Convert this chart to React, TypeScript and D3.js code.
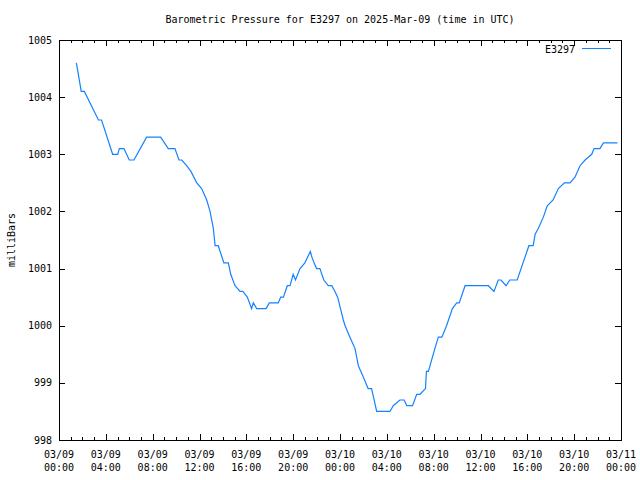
import React from "react";
import * as d3 from "d3";

const times: string[] = [
  "2025-03-09T01:29","2025-03-09T01:54","2025-03-09T02:10","2025-03-09T03:22","2025-03-09T03:38",
  "2025-03-09T04:35","2025-03-09T05:01","2025-03-09T05:09","2025-03-09T05:33","2025-03-09T06:00",
  "2025-03-09T06:24","2025-03-09T07:29","2025-03-09T08:41","2025-03-09T09:20","2025-03-09T09:54",
  "2025-03-09T10:15","2025-03-09T10:29","2025-03-09T10:54","2025-03-09T11:16","2025-03-09T11:46",
  "2025-03-09T12:11","2025-03-09T12:37","2025-03-09T12:54","2025-03-09T13:11","2025-03-09T13:20",
  "2025-03-09T13:36","2025-03-09T14:05","2025-03-09T14:28","2025-03-09T14:40","2025-03-09T15:02",
  "2025-03-09T15:28","2025-03-09T15:42","2025-03-09T16:05","2025-03-09T16:27","2025-03-09T16:36",
  "2025-03-09T16:53","2025-03-09T17:41","2025-03-09T17:58","2025-03-09T18:44","2025-03-09T18:56",
  "2025-03-09T19:10","2025-03-09T19:30","2025-03-09T19:44","2025-03-09T20:00","2025-03-09T20:12",
  "2025-03-09T20:35","2025-03-09T21:00","2025-03-09T21:28","2025-03-09T21:36","2025-03-09T21:47",
  "2025-03-09T22:00","2025-03-09T22:17","2025-03-09T22:37","2025-03-09T23:00","2025-03-09T23:18",
  "2025-03-09T23:34","2025-03-09T23:48","2025-03-10T00:17","2025-03-10T00:26","2025-03-10T00:51",
  "2025-03-10T01:17","2025-03-10T01:34","2025-03-10T02:00","2025-03-10T02:24","2025-03-10T02:42",
  "2025-03-10T03:08","2025-03-10T04:16","2025-03-10T04:33","2025-03-10T05:07","2025-03-10T05:29",
  "2025-03-10T05:42","2025-03-10T06:12","2025-03-10T06:33","2025-03-10T06:50","2025-03-10T07:18",
  "2025-03-10T07:23","2025-03-10T07:33","2025-03-10T08:06","2025-03-10T08:24","2025-03-10T08:42",
  "2025-03-10T09:06","2025-03-10T09:36","2025-03-10T09:58","2025-03-10T10:11","2025-03-10T10:41",
  "2025-03-10T12:40","2025-03-10T13:09","2025-03-10T13:31","2025-03-10T13:45","2025-03-10T14:11",
  "2025-03-10T14:30","2025-03-10T15:08","2025-03-10T16:08","2025-03-10T16:30","2025-03-10T16:40",
  "2025-03-10T16:56","2025-03-10T17:22","2025-03-10T17:42","2025-03-10T18:12","2025-03-10T18:39",
  "2025-03-10T19:10","2025-03-10T19:39","2025-03-10T20:04","2025-03-10T20:30","2025-03-10T20:56",
  "2025-03-10T21:30","2025-03-10T21:42","2025-03-10T22:12","2025-03-10T22:30","2025-03-10T23:42",
];

const pressure: number[] = [
  1004.6,1004.1,1004.1,1003.6,1003.6,
  1003.0,1003.0,1003.1,1003.1,1002.9,
  1002.9,1003.3,1003.3,1003.1,1003.1,
  1002.9,1002.9,1002.8,1002.7,1002.5,
  1002.4,1002.2,1002.0,1001.7,1001.4,
  1001.4,1001.1,1001.1,1000.9,1000.7,
  1000.6,1000.6,1000.5,1000.3,1000.4,
  1000.3,1000.3,1000.4,1000.4,1000.5,
  1000.5,1000.7,1000.7,1000.9,1000.8,
  1001.0,1001.1,1001.3,1001.2,1001.1,
  1001.0,1001.0,1000.8,1000.7,1000.7,
  1000.6,1000.5,1000.1,1000.0,999.8,
  999.6,999.3,999.1,998.9,998.9,
  998.5,998.5,998.6,998.7,998.7,
  998.6,998.6,998.8,998.8,998.9,
  999.2,999.2,999.6,999.8,999.8,
  1000.0,1000.3,1000.4,1000.4,1000.7,
  1000.7,1000.6,1000.8,1000.8,1000.7,
  1000.8,1000.8,1001.4,1001.4,1001.6,
  1001.7,1001.9,1002.1,1002.2,1002.4,
  1002.5,1002.5,1002.6,1002.8,1002.9,
  1003.0,1003.1,1003.1,1003.2,1003.2,
];

const yTicks: number[] = [998, 999, 1000, 1001, 1002, 1003, 1004, 1005];
const title = "Barometric Pressure for E3297 on 2025-Mar-09 (time in UTC)";
const yLabel = "milliBars";
const seriesName = "E3297";
const xStart = "2025-03-09T00:00";
const xEnd = "2025-03-11T00:00";

const W = 640, H = 480;
const L = 59, R = 621, T = 40, B = 440;
const FONT = "'DejaVu Sans Mono', 'Liberation Mono', monospace";
const COLOR = "#1482ff";

export default function App() {
  const parse = d3.utcParse("%Y-%m-%dT%H:%M");
  const data = times.map((t, i) => ({ t: parse(t) as Date, v: pressure[i] }));
  const x = d3.scaleUtc().domain([parse(xStart) as Date, parse(xEnd) as Date]).range([L, R]);
  const y = d3.scaleLinear().domain([998, 1005]).range([B, T]);
  const majors = d3.utcHour.every(4)!.range(x.domain()[0], new Date(+x.domain()[1] + 1));
  const minors = d3.utcHour.every(1)!.range(x.domain()[0], new Date(+x.domain()[1] + 1));
  const line = d3.line<{ t: Date; v: number }>().x(d => x(d.t)).y(d => y(d.v));
  const fDate = d3.utcFormat("%m/%d");
  const fTime = d3.utcFormat("%H:%M");

  return (
    <svg width={W} height={H} style={{ position: "absolute", left: 0, top: 0, background: "#fff" }}
      fontFamily={FONT} fontSize={10}>
      <rect x={0} y={0} width={W} height={H} fill="#fff" />
      <text x={(L + R) / 2} y={19} textAnchor="middle" dominantBaseline="central">{title}</text>
      <text transform={`translate(11,${(T + B) / 2}) rotate(-90)`} textAnchor="middle" dominantBaseline="central">{yLabel}</text>
      <g stroke="#000" strokeWidth={1} shapeRendering="crispEdges">
        {minors.map((d, i) => {
          const px = Math.round(x(d)) + 0.5;
          return (
            <g key={"m" + i}>
              <line x1={px} x2={px} y1={B} y2={B - 3} />
              <line x1={px} x2={px} y1={T} y2={T + 3} />
            </g>
          );
        })}
        {majors.map((d, i) => {
          const px = Math.round(x(d)) + 0.5;
          return (
            <g key={"M" + i}>
              <line x1={px} x2={px} y1={B} y2={B - 6} />
              <line x1={px} x2={px} y1={T} y2={T + 6} />
            </g>
          );
        })}
        {yTicks.map((v, i) => {
          const py = Math.round(y(v)) + 0.5;
          return (
            <g key={"y" + i}>
              <line x1={L} x2={L + 6} y1={py} y2={py} />
              <line x1={R} x2={R - 6} y1={py} y2={py} />
            </g>
          );
        })}
        <rect x={L + 0.5} y={T + 0.5} width={R - L} height={B - T} fill="none" />
      </g>
      {yTicks.map((v, i) => (
        <text key={"yl" + i} x={L - 7} y={y(v)} textAnchor="end" dominantBaseline="central">{v}</text>
      ))}
      {majors.map((d, i) => (
        <g key={"xl" + i}>
          <text x={x(d)} y={454} textAnchor="middle" dominantBaseline="central">{fDate(d)}</text>
          <text x={x(d)} y={467} textAnchor="middle" dominantBaseline="central">{fTime(d)}</text>
        </g>
      ))}
      <text x={575} y={49} textAnchor="end" dominantBaseline="central">{seriesName}</text>
      <line x1={582} x2={611} y1={48.5} y2={48.5} stroke={COLOR} strokeWidth={1} shapeRendering="crispEdges" />
      <path d={line(data) || ""} fill="none" stroke={COLOR} strokeWidth={1.2} />
    </svg>
  );
}
